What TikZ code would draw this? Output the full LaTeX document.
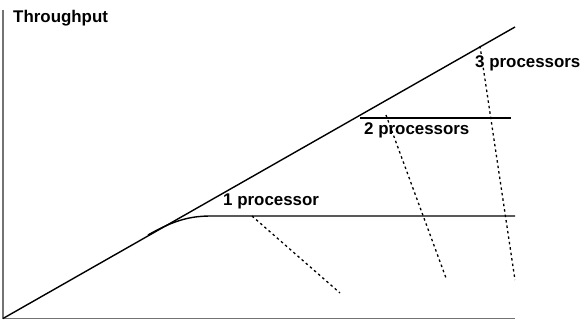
\documentclass[tikz,border=0pt]{standalone}
\usepackage{fontspec}
\setmainfont{Liberation Sans}
\begin{document}
\begin{tikzpicture}[x=1pt,y=-1pt,
  axis/.style={draw=black!55,line width=1.4pt},
  curve/.style={draw=black,line width=1.4pt},
  guide/.style={draw=black,line width=1.3pt,dash pattern=on 2.5pt off 3pt},
  lbl/.style={anchor=base west,inner sep=0pt,font=\bfseries\fontsize{16.9}{18}\selectfont}]
\useasboundingbox (0,0) rectangle (582,320);
% axes
\coordinate (o) at (3,318.5);
\coordinate (ytop) at (3,10);
\coordinate (xend) at (515,318.5);
\draw[axis] (ytop) -- (o) -- (xend);
% ideal line
\coordinate (dtop) at (515,27);
\draw[curve] (o) -- (dtop);
% 1 processor
\coordinate (c1a) at (148,235);
\coordinate (c1b) at (212,216);
\coordinate (c1e) at (515,216);
\draw[curve] (c1a) .. controls (176,219) and (192,216) .. (c1b) -- (c1e);
% 2 processors
\coordinate (c2a) at (360,118);
\coordinate (c2e) at (511,118);
\draw[curve] (c2a) -- (c2e);
% dashed guides
\coordinate (g1a) at (252,216);
\coordinate (g1b) at (340,293);
\coordinate (g2a) at (386,115);
\coordinate (g2b) at (446,278);
\coordinate (g3a) at (480,46);
\coordinate (g3b) at (515,280);
\draw[guide] (g1a) -- (g1b);
\draw[guide] (g2a) -- (g2b);
\draw[guide] (g3a) -- (g3b);
% labels
\node[lbl] (ty) at (13,22.7) {Throughput};
\node[lbl] (l1) at (223,206) {1 processor};
\node[lbl] (l2) at (364,135) {2 processors};
\node[lbl] (l3) at (475,68) {3 processors};
\end{tikzpicture}
\end{document}
